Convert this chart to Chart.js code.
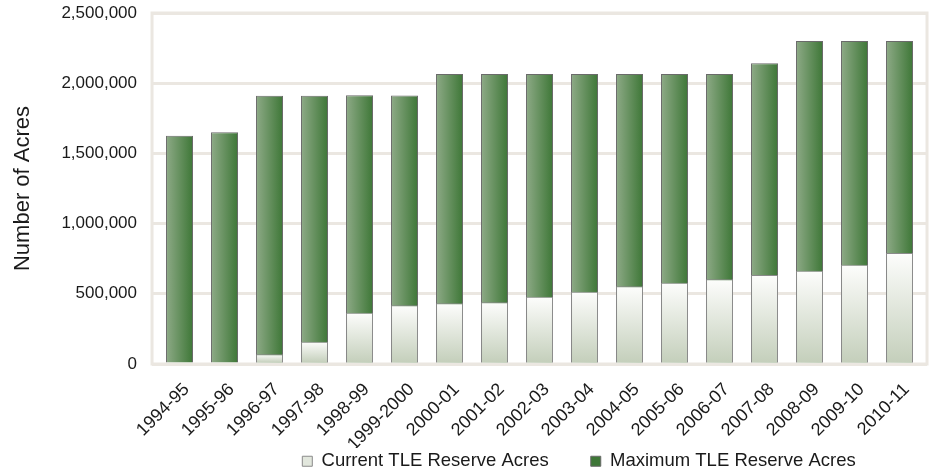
<!DOCTYPE html>
<html lang="en">
<head>
  <meta charset="UTF-8">
  <title>TLE Reserve Acres</title>
  <script src="https://cdn.jsdelivr.net/npm/chart.js"></script>
  <style>
    body { margin: 0; background: #fff; }
    canvas { display: block; }
  </style>
</head>
<body>
  <canvas id="tleChart" width="930" height="473"></canvas>

  <script>
    const years = ['1994-95', '1995-96', '1996-97', '1997-98', '1998-99', '1999-2000',
      '2000-01', '2001-02', '2002-03', '2003-04', '2004-05', '2005-06', '2006-07',
      '2007-08', '2008-09', '2009-10', '2010-11'];

    const currentAcres = [0, 0, 69000, 159000, 365000, 418000, 432000, 439000, 479000,
      515000, 553000, 579000, 603000, 634000, 665000, 707000, 791000];

    const maximumAcres = [1625000, 1650000, 1910000, 1910000, 1915000, 1912000, 2065000,
      2065000, 2065000, 2065000, 2065000, 2065000, 2065000, 2142000, 2300000, 2300000, 2300000];

    const yTicks = [0, 500000, 1000000, 1500000, 2000000, 2500000];

    const gridColor = '#ebe7e1';
    const textColor = '#1a1a1a';

    Chart.defaults.font.family = '"Liberation Sans", Arial, sans-serif';

    // horizontal shading on the green bars, vertical on the light ones
    function greenFill(c) {
      const el = c.element;
      if (!el || el.x == null || isNaN(el.x)) return '#5f8d57';
      const g = c.chart.ctx.createLinearGradient(el.x - el.width / 2, 0, el.x + el.width / 2, 0);
      g.addColorStop(0, '#8eaa87');
      g.addColorStop(1, '#3e7737');
      return g;
    }

    function lightFill(c) {
      const el = c.element;
      if (!el || el.y == null || isNaN(el.y) || el.base === el.y) return '#e2e7dd';
      const g = c.chart.ctx.createLinearGradient(0, el.y, 0, el.base);
      g.addColorStop(0, '#fdfdfc');
      g.addColorStop(1, '#c4cfbb');
      return g;
    }

    // plot frame, extended as far as the gridline tick marks
    const framePlugin = {
      id: 'frame',
      beforeDatasetsDraw(chart) {
        const { ctx, chartArea: a } = chart;
        const ext = chart.options.scales.y.grid.tickLength;
        ctx.save();
        ctx.strokeStyle = gridColor;
        ctx.lineWidth = 3;
        ctx.strokeRect(a.left - ext, a.top, a.width + 2 * ext, a.height);
        ctx.restore();
      }
    };

    // legend sits right of centre in the original, overlapping the tick label band
    const legendPlacement = {
      id: 'legendPlacement',
      afterLayout(chart) {
        const lg = chart.legend;
        lg.left += 115;
        lg.right += 115;
        lg.top -= 38;
        lg.bottom = chart.height;
      }
    };

    const chart = new Chart(document.getElementById('tleChart'), {
      type: 'bar',
      data: {
        labels: years,
        datasets: [{
          label: 'Current TLE Reserve Acres',
          data: currentAcres,
          backgroundColor: lightFill,
          borderColor: '#8a8a8a',
          borderWidth: 1,
          grouped: false,
          order: 0,
          barPercentage: 0.6,
          categoryPercentage: 1
        }, {
          label: 'Maximum TLE Reserve Acres',
          data: maximumAcres,
          backgroundColor: greenFill,
          borderColor: '#6a6a6a',
          borderWidth: 1,
          grouped: false,
          order: 1,
          barPercentage: 0.6,
          categoryPercentage: 1
        }]
      },
      plugins: [framePlugin, legendPlacement],
      options: {
        responsive: false,
        animation: false,
        layout: { autoPadding: false, padding: { top: 13, right: 2, left: 0, bottom: 0 } },
        plugins: {
          tooltip: { enabled: false },
          legend: {
            position: 'bottom',
            maxHeight: 25,
            labels: {
              color: textColor,
              font: { size: 18.5 },
              boxWidth: 10,
              boxHeight: 10,
              padding: 42
            }
          }
        },
        scales: {
          x: {
            grid: { display: false, drawTicks: false },
            border: { display: false },
            ticks: {
              autoSkip: false,
              minRotation: 45,
              maxRotation: 45,
              padding: 15,
              labelOffset: 7,
              color: textColor,
              font: { size: 18 }
            },
            afterFit: s => { s.height = 84; }
          },
          y: {
            min: yTicks[0],
            max: yTicks[yTicks.length - 1],
            ticks: {
              stepSize: yTicks[1] - yTicks[0],
              padding: 15,
              color: textColor,
              font: { size: 17 },
              callback: v => v.toLocaleString('en-US')
            },
            grid: { color: gridColor, lineWidth: 3, tickLength: 5 },
            border: { display: false },
            title: {
              display: true,
              text: 'Number of Acres',
              color: textColor,
              font: { size: 22 },
              padding: { top: 10, bottom: 10 }
            },
            // top label may overhang the frame, as in the original
            afterFit: s => { s.paddingTop = 0; s.paddingBottom = 0; }
          },
          yRight: {
            position: 'right',
            min: yTicks[0],
            max: yTicks[yTicks.length - 1],
            ticks: { display: false, stepSize: yTicks[1] - yTicks[0] },
            grid: { color: gridColor, lineWidth: 3, tickLength: 5, drawOnChartArea: false },
            border: { display: false }
          }
        }
      }
    });

    // second pass so the gradients can use the laid-out bar positions
    chart.update();
  </script>
</body>
</html>
